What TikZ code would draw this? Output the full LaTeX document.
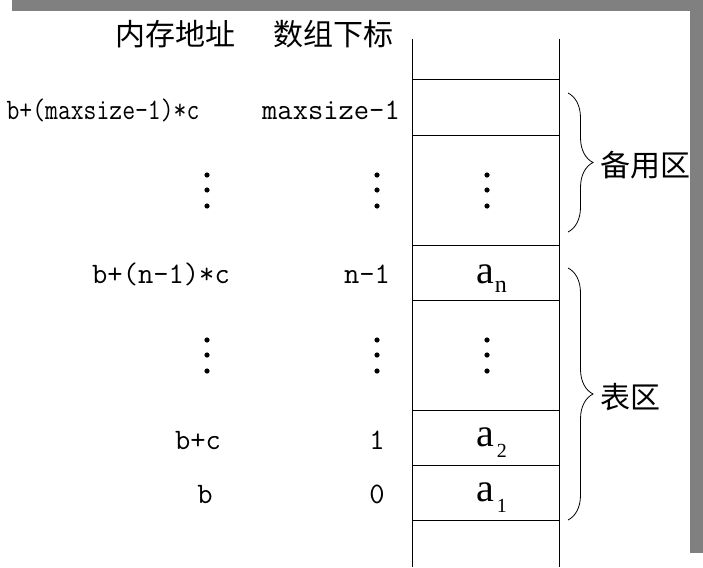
\documentclass[tikz,border=0pt]{standalone}
\usepackage{fontspec}
\newfontfamily\cjk{Noto Sans CJK SC}
\newfontfamily\letra{Liberation Serif}
\newfontfamily\estreito[FakeStretch=0.84]{Latin Modern Mono}
\usetikzlibrary{decorations.pathreplacing}
\begin{document}
\begin{tikzpicture}[x=1pt,y=-1pt,
    endereco/.style={font=\ttfamily\fontsize{29.7}{29.7}\selectfont,inner sep=0pt,anchor=base},
    titulo/.style={font=\cjk\fontsize{30}{30}\selectfont,inner sep=0pt},
    elemento/.style={font=\letra\fontsize{40}{40}\selectfont,inner sep=0pt,anchor=base west},
    chave/.style={decorate,decoration={brace,amplitude=25pt},line width=0.8pt},
    linha/.style={line width=1pt}
]
\useasboundingbox (0,0) rectangle (703,567);
\fill[white] (0,0) rectangle (703,567);

% tabela
\coordinate (t1) at (412.5,39);
\coordinate (t2) at (559,39);
\coordinate (b1) at (412.5,567);
\coordinate (b2) at (559,567);
\draw[linha] (t1) -- (b1);
\draw[linha] (t2) -- (b2);
\foreach \y in {80,135,245,300,410,465,520}
  \draw[linha] (412.5,\y) -- (559,\y);

% titulos
\node[titulo] (mem) at (175,34) {内存地址};
\node[titulo] (ind) at (333,34) {数组下标};

% enderecos e indices
\node[endereco,font=\estreito\fontsize{29.7}{29.7}\selectfont] (emax) at (103,119) {b+(maxsize-1)*c};
\node[endereco] (imax) at (331,119) {maxsize-1};
\node[endereco] (en) at (161,283) {b+(n-1)*c};
\node[endereco] (in) at (367,283) {n-1};
\node[endereco] (e2) at (198,449) {b+c};
\node[endereco] (i2) at (377,449) {1};
\node[endereco] (e1) at (205,503) {b};
\node[endereco] (i1) at (377,503) {0};

% elementos
\node[elemento] (an) at (476,283) {a\kern1pt\raisebox{-9pt}{\fontsize{24}{24}\selectfont n}};
\node[elemento] (a2) at (476,446) {a\kern3pt\raisebox{-11pt}{\fontsize{20}{20}\selectfont 2}};
\node[elemento] (a1) at (476,501) {a\kern3pt\raisebox{-11pt}{\fontsize{20}{20}\selectfont 1}};

% reticencias
\foreach \x in {207,377,487}
  \foreach \y in {175,190,206,340,355,371}
    \fill (\x,\y) circle (2.6pt);

% chaves
\coordinate (c1) at (568,93);
\coordinate (c2) at (568,232);
\coordinate (c3) at (568,268);
\coordinate (c4) at (568,520);
\draw[chave] (c1) -- (c2);
\draw[chave] (c3) -- (c4);
\node[titulo,anchor=west] (reserva) at (600,165) {备用区};
\node[titulo,anchor=west] (lista) at (600,397) {表区};

% moldura
\fill[gray] (12,0) rectangle (703,11);
\fill[gray] (690,0) rectangle (703,553);
\end{tikzpicture}
\end{document}
